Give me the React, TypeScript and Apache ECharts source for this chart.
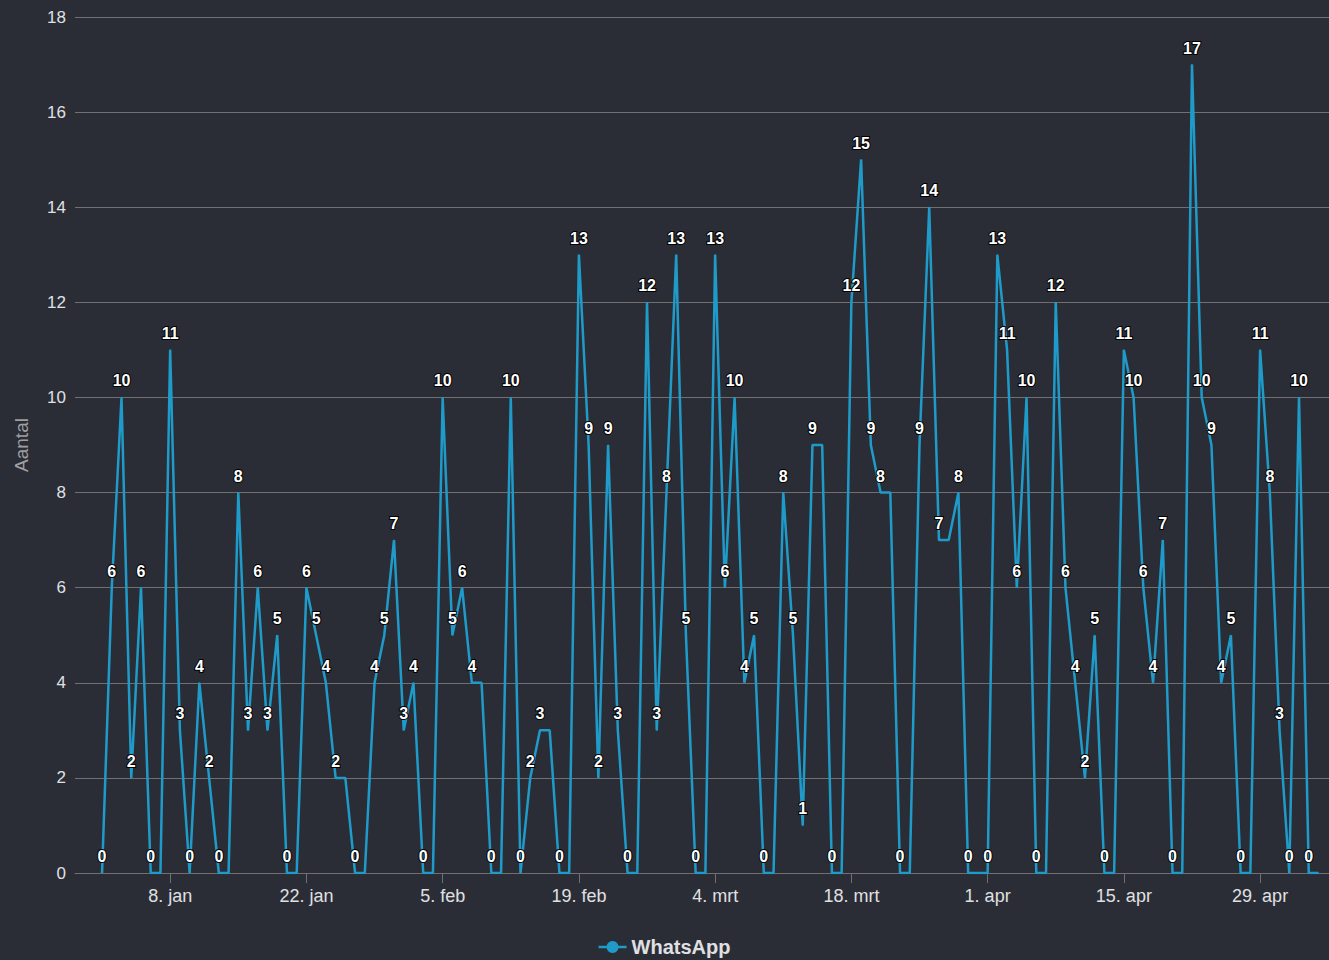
import React, { useEffect, useRef } from "react";
import * as echarts from "echarts";

const seriesName = "WhatsApp";
const startDate = "2024-01-01";
const counts = [
  0, 6, 10, 2, 6, 0, 0, 11, 3, 0, 4, 2, 0, 0, 8, 3, 6, 3, 5, 0, 0,
  6, 5, 4, 2, 2, 0, 0, 4, 5, 7, 3, 4, 0, 0, 10, 5, 6, 4, 4, 0, 0,
  10, 0, 2, 3, 3, 0, 0, 13, 9, 2, 9, 3, 0, 0, 12, 3, 8, 13, 5, 0, 0,
  13, 6, 10, 4, 5, 0, 0, 8, 5, 1, 9, 9, 0, 0, 12, 15, 9, 8, 8, 0, 0,
  9, 14, 7, 7, 8, 0, 0, 0, 13, 11, 6, 10, 0, 0, 12, 6, 4, 2, 5, 0, 0,
  11, 10, 6, 4, 7, 0, 0, 17, 10, 9, 4, 5, 0, 0, 11, 8, 3, 0, 10, 0, 0,
];
const tickDates = [
  "2024-01-08", "2024-01-22", "2024-02-05", "2024-02-19", "2024-03-04",
  "2024-03-18", "2024-04-01", "2024-04-15", "2024-04-29",
];
const tickLabels = [
  "8. jan", "22. jan", "5. feb", "19. feb", "4. mrt",
  "18. mrt", "1. apr", "15. apr", "29. apr",
];
const yTicks = [0, 2, 4, 6, 8, 10, 12, 14, 16, 18];
const axisTitle = "Aantal";

const DAY = 86400000;
const FONT = "'Liberation Sans', Arial, sans-serif";
const BLUE = "#1f9bc9";

export default function App() {
  const ref = useRef<HTMLDivElement>(null);
  useEffect(() => {
    document.body.style.margin = "0";
    const chart = echarts.init(ref.current!, undefined, { renderer: "svg" });
    const t0 = Date.parse(startDate + "T00:00:00Z");
    const tickTs = tickDates.map((d) => Date.parse(d + "T00:00:00Z"));
    const labelMap: Record<string, string> = {};
    tickTs.forEach((t, i) => (labelMap[String(t)] = tickLabels[i]));

    let lastShown = -5;
    const data = counts.map((v, i) => {
      const show = !(lastShown === i - 1 && counts[i - 1] === v);
      if (show) lastShown = i;
      return { value: [t0 + i * DAY, v], label: { show } };
    });

    chart.setOption({
      animation: false,
      backgroundColor: "#2a2d36",
      textStyle: { fontFamily: FONT },
      grid: { left: 75, right: 0, top: 17, bottom: 87, containLabel: false },
      legend: {
        left: "center",
        top: 932,
        icon: "path://M0,4.75H28V7.25H0Z M14,0A6,6 0 1,1 13.99,0Z",
        itemWidth: 28,
        itemHeight: 12,
        itemGap: 9,
        itemStyle: { color: BLUE, opacity: 1 },
        textStyle: { color: "#E0E0E3", fontSize: 20, fontWeight: "bold", fontFamily: FONT },
        data: [seriesName],
      },
      xAxis: {
        type: "value",
        min: t0 - 2.78 * DAY,
        max: t0 + 126.08 * DAY,
        axisLine: { show: true, onZero: false, lineStyle: { color: "#707073", width: 1 } },
        axisTick: {
          show: true,
          length: 10,
          lineStyle: { color: "#707073" },
          customValues: tickTs,
        },
        axisLabel: {
          color: "#E0E0E3",
          fontSize: 18,
          fontFamily: FONT,
          margin: 14,
          customValues: tickTs,
          formatter: (v: number) => labelMap[String(v)] ?? "",
        },
        splitLine: { show: false },
      },
      yAxis: {
        type: "value",
        min: yTicks[0],
        max: yTicks[yTicks.length - 1],
        interval: 2,
        name: axisTitle,
        nameLocation: "middle",
        nameGap: 44,
        nameTextStyle: { color: "#A0A0A3", fontSize: 19, fontFamily: FONT },
        axisLine: { show: false },
        axisTick: { show: false },
        axisLabel: { color: "#E0E0E3", fontSize: 17, fontFamily: FONT, margin: 9 },
        splitLine: { show: true, lineStyle: { color: "#707073", width: 1 } },
      },
      series: [
        {
          name: seriesName,
          type: "line",
          data,
          showSymbol: true,
          showAllSymbol: true,
          symbol: "circle",
          symbolSize: 1,
          itemStyle: { color: BLUE },
          color: BLUE,
          lineStyle: { color: BLUE, width: 2.5 },
          label: {
            show: true,
            position: "top",
            distance: 8,
            color: "#ffffff",
            fontSize: 16,
            fontWeight: "bold",
            fontFamily: FONT,
            textBorderColor: "#000000",
            textBorderWidth: 2,
            formatter: (p: any) => String(p.value[1]),
          },
          labelLayout: { hideOverlap: false },
        },
      ],
    });
    return () => chart.dispose();
  }, []);
  return (
    <div
      ref={ref}
      style={{ position: "absolute", left: 0, top: 0, width: 1329, height: 960 }}
    />
  );
}
